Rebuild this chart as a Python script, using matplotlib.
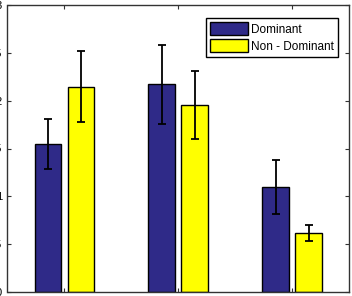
import matplotlib
matplotlib.use("Agg")
import matplotlib.pyplot as plt
import numpy as np

categories = [1, 2, 3]
dominant = [1.55, 2.17, 1.10]
dominant_err = [0.26, 0.41, 0.28]
non_dominant = [2.145, 1.95, 0.615]
non_dominant_err = [0.37, 0.355, 0.085]
series_labels = ["Dominant", "Non - Dominant"]
yticks = [0, 0.5, 1, 1.5, 2, 2.5, 3]
ytick_labels = ["0", "0.5", "1", "1.5", "2", "2.5", "3"]

plt.rcParams['font.family'] = ['Liberation Sans', 'DejaVu Sans']

fig = plt.figure(figsize=(3.52, 2.96), dpi=100)
ax = fig.add_axes([7.5/352, 4/296, 341.5/352, 287/296])

x = np.array(categories, dtype=float)
off = 0.145
w = 0.235
blue = "#2f2a88"
yellow = "#ffff00"
ax.bar(x - off, dominant, w, color=blue, edgecolor="black", linewidth=1.0,
       label=series_labels[0], zorder=2)
ax.bar(x + off, non_dominant, w, color=yellow, edgecolor="black", linewidth=1.0,
       label=series_labels[1], zorder=2)
ax.errorbar(x - off, dominant, yerr=dominant_err, fmt="none", ecolor="black",
            elinewidth=1.3, capsize=3, capthick=1.3, zorder=3)
ax.errorbar(x + off, non_dominant, yerr=non_dominant_err, fmt="none", ecolor="black",
            elinewidth=1.3, capsize=3, capthick=1.3, zorder=3)

ax.set_xlim(0.5, 3.5)
ax.set_ylim(0, 3)
ax.set_xticks(categories)
ax.set_xticklabels([])
ax.set_yticks(yticks)
ax.set_yticklabels(ytick_labels, fontsize=8)
ax.tick_params(direction="in", top=True, right=True, length=3, width=0.8,
               color="#333333", pad=4)
for s in ax.spines.values():
    s.set_color("#333333")
    s.set_linewidth(1.0)

leg = ax.legend(loc="upper right", bbox_to_anchor=(0.968, 0.955), borderaxespad=0,
                fontsize=8.5, fancybox=False, frameon=True, handlelength=3.2,
                handleheight=1.35, handletextpad=0.3, borderpad=0.35, labelspacing=0.3)
leg.get_frame().set_edgecolor("black")
leg.get_frame().set_linewidth(1.0)
leg.get_frame().set_alpha(1)

fig.savefig("out.png", dpi=100)
